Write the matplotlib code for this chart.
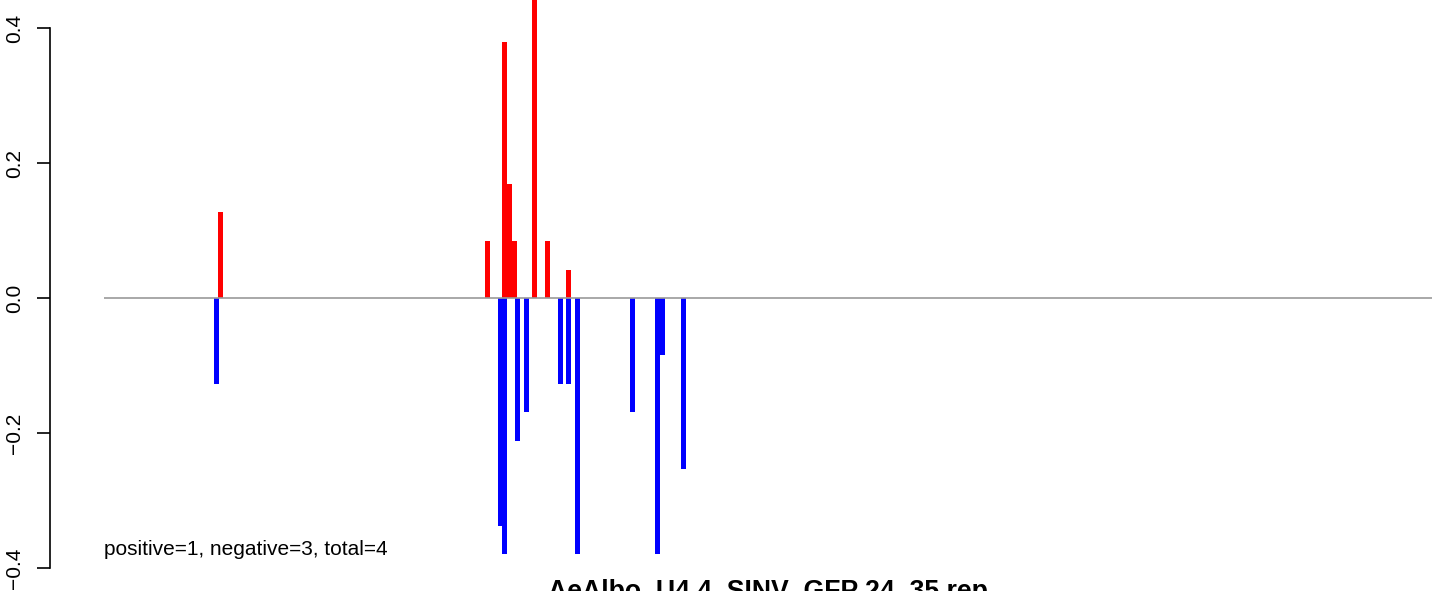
import matplotlib
matplotlib.use("Agg")
import matplotlib.pyplot as plt

plt.rcParams["font.family"] = ["Liberation Sans", "DejaVu Sans"]

# positions along the sequence (left edge of each bar) and signed values
pos_x = [114, 381, 398, 403, 408, 428, 441, 462]
pos_val = [0.127, 0.084, 0.379, 0.169, 0.084, 0.47, 0.084, 0.042]

neg_x = [110, 394, 398, 411, 420, 454, 462, 471, 526, 551, 556, 577]
neg_val = [-0.127, -0.338, -0.379, -0.212, -0.169, -0.127, -0.127, -0.379,
           -0.169, -0.379, -0.084, -0.253]

seq_len = 1328
y_ticks = [-0.4, -0.2, 0.0, 0.2, 0.4]
summary = "positive=1, negative=3, total=4"
title = "AeAlbo_U4.4_SINV_GFP 24_35 rep"

W, H = 1444, 591
fig = plt.figure(figsize=(W / 100, H / 100), dpi=100)
ax = fig.add_axes([104 / W, 0, seq_len / W, 1])

ax.bar(pos_x, pos_val, width=5, align="edge", color="#ff0000", linewidth=0)
ax.bar(neg_x, neg_val, width=5, align="edge", color="#0000ff", linewidth=0)
ax.axhline(0, color="#9a9a9a", lw=1.2, zorder=5)

ax.set_xlim(0, seq_len)
ax.set_ylim(-0.434, 0.4415)

for s in ["top", "right", "bottom"]:
    ax.spines[s].set_visible(False)
ax.spines["left"].set_position(("outward", 38.9))
ax.spines["left"].set_bounds(-0.4, 0.4)
ax.spines["left"].set_linewidth(1.2)
ax.set_xticks([])
ax.set_yticks(y_ticks)
ax.set_yticklabels([f"{v:.1f}".replace("-", "\u2212") for v in y_ticks],
                   rotation=90, va="center")
ax.tick_params(axis="y", length=9.4, width=1.2, pad=9, labelsize=15)

ax.text(0, -0.381, summary, fontsize=15, ha="left", va="baseline")
fig.text(768 / W, (H - 599) / H, title, fontsize=19.2, fontweight="bold",
         ha="center", va="baseline")

fig.savefig("out.png", dpi=100)
